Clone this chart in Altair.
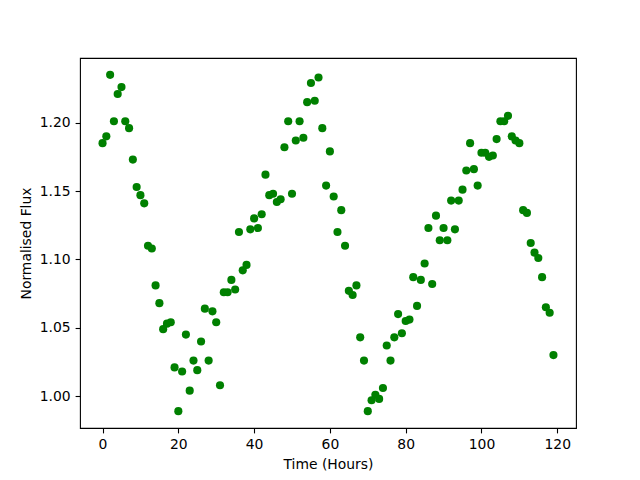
import altair as alt
import pandas as pd

hours = list(range(120))
flux = [
    1.185, 1.190, 1.235, 1.201, 1.221, 1.226, 1.201, 1.196, 1.173, 1.153,
    1.147, 1.141, 1.110, 1.108, 1.081, 1.068, 1.049, 1.053, 1.054, 1.021,
    0.989, 1.018, 1.045, 1.004, 1.026, 1.019, 1.040, 1.064, 1.026, 1.062,
    1.054, 1.008, 1.076, 1.076, 1.085, 1.078, 1.120, 1.092, 1.096, 1.122,
    1.130, 1.123, 1.133, 1.162, 1.147, 1.148, 1.142, 1.144, 1.182, 1.201,
    1.148, 1.187, 1.201, 1.189, 1.215, 1.229, 1.216, 1.233, 1.196, 1.154,
    1.179, 1.146, 1.120, 1.136, 1.110, 1.077, 1.074, 1.081, 1.043, 1.026,
    0.989, 0.997, 1.001, 0.998, 1.006, 1.037, 1.026, 1.043, 1.060, 1.046,
    1.055, 1.056, 1.087, 1.066, 1.085, 1.097, 1.123, 1.082, 1.132, 1.114,
    1.123, 1.114, 1.143, 1.122, 1.143, 1.151, 1.165, 1.185, 1.166, 1.154,
    1.178, 1.178, 1.175, 1.176, 1.188, 1.201, 1.201, 1.205, 1.190, 1.187,
    1.185, 1.136, 1.134, 1.112, 1.105, 1.101, 1.087, 1.065, 1.061, 1.030,
]
x_ticks = [0, 20, 40, 60, 80, 100, 120]
y_ticks = [1.00, 1.05, 1.10, 1.15, 1.20]

df = pd.DataFrame({"hours": hours, "flux": flux})

xmin, xmax = min(hours), max(hours)
ymin, ymax = min(flux), max(flux)
xm = (xmax - xmin) * 0.05
ym = (ymax - ymin) * 0.05

axis_common = dict(
    domain=False, grid=False, ticks=True, tickColor="black", tickWidth=1.1,
    tickSize=4.9, labelPadding=4.9, labelColor="black", labelFont="DejaVu Sans",
    labelFontSize=13.9, titleFont="DejaVu Sans", titleFontSize=13.9,
    titleFontWeight="normal", titleColor="black",
)

chart = alt.Chart(df).mark_circle(size=66, opacity=1, color="#008000").encode(
    x=alt.X("hours:Q", title="Time (Hours)",
            scale=alt.Scale(domain=[xmin - xm, xmax + xm], nice=False, zero=False),
            axis=alt.Axis(values=x_ticks, format="d", titlePadding=6, **axis_common)),
    y=alt.Y("flux:Q", title="Normalised Flux",
            scale=alt.Scale(domain=[ymin - ym, ymax + ym], nice=False, zero=False),
            axis=alt.Axis(values=y_ticks, format=".2f", titlePadding=6, **axis_common)),
).properties(
    width=496, height=370,
    autosize=alt.AutoSizeParams(type="none"),
    padding={"left": 72, "top": 50, "right": 56, "bottom": 45},
    background="white",
).configure_view(
    stroke="black", strokeWidth=1.1, strokeOpacity=1
)

chart.save("out.html", embed_options={"renderer": "svg", "actions": False})
